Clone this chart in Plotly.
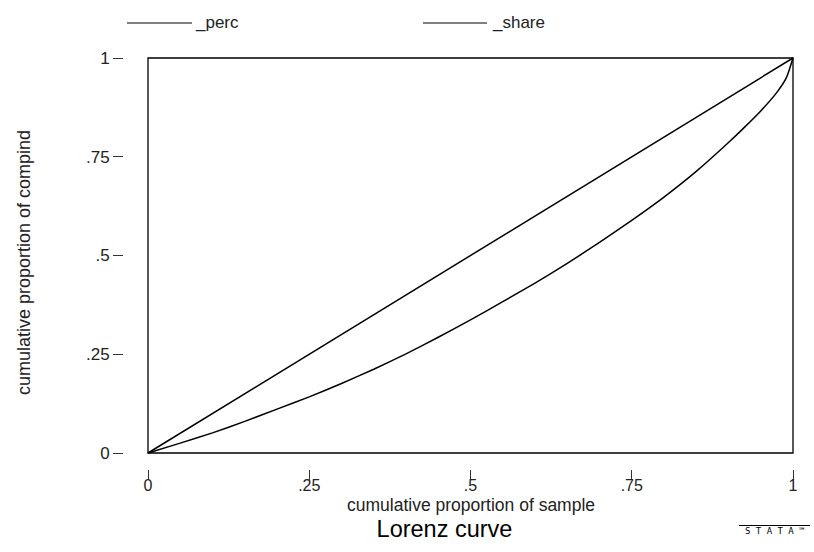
import plotly.graph_objects as go

# ---- data ----
share_x = [0, 0.05, 0.10, 0.15, 0.20, 0.25, 0.30, 0.35, 0.40, 0.45, 0.50, 0.55,
           0.60, 0.65, 0.70, 0.75, 0.80, 0.85, 0.90, 0.925, 0.95, 0.975, 0.99, 1.0]
share_y = [0, 0.025, 0.051, 0.080, 0.111, 0.142, 0.176, 0.212, 0.251, 0.293, 0.337, 0.383,
           0.430, 0.480, 0.533, 0.589, 0.648, 0.713, 0.786, 0.825, 0.866, 0.913, 0.951, 1.0]
perc_x = [0, 1]
perc_y = [0, 1]
tick_vals = [0, 0.25, 0.5, 0.75, 1]
tick_text = ["0", ".25", ".5", ".75", "1"]

W, H = 814, 552
L, R, T, B = 124, 795, 56, 469   # plot-area pixel edges


def px(x):
    return (x - L) / (R - L)


def py(y):
    return (B - y) / (B - T)


FONT = "Liberation Sans, Arial, sans-serif"

fig = go.Figure()
fig.add_trace(go.Scatter(x=perc_x, y=perc_y, mode="lines", name="_perc",
                         line=dict(color="black", width=1.5), showlegend=False))
fig.add_trace(go.Scatter(x=share_x, y=share_y, mode="lines", name="_share",
                         line=dict(color="black", width=1.5, shape="spline", smoothing=0.5),
                         showlegend=False))

# frame
fig.add_shape(type="rect", xref="x", yref="y", x0=0, y0=0, x1=1, y1=1,
              line=dict(color="black", width=1.3), layer="below")

# manual legend
for (x0, x1, tx, label) in [(127, 192, 193, "_perc"), (423, 487, 490, "_share")]:
    fig.add_shape(type="line", xref="paper", yref="paper", x0=px(x0), x1=px(x1),
                  y0=py(23), y1=py(23), line=dict(color="black", width=1.2))
    fig.add_annotation(xref="paper", yref="paper", x=px(tx), y=py(22), text=label,
                       showarrow=False, xanchor="left", yanchor="middle",
                       font=dict(size=17, color="#222", family=FONT))

# x axis title (centered on data)
fig.add_annotation(xref="x", yref="paper", x=0.5, y=py(505.5),
                   text="cumulative proportion of sample", showarrow=False,
                   xanchor="center", yanchor="middle",
                   font=dict(size=17.5, color="#222", family=FONT))

# stata logo
fig.add_shape(type="line", xref="paper", yref="paper", x0=px(739), x1=px(810),
              y0=py(525.5), y1=py(525.5), line=dict(color="black", width=1))
fig.add_annotation(xref="paper", yref="paper", x=px(775), y=py(531),
                   text="S T A T A ™", showarrow=False, xanchor="center", yanchor="middle",
                   font=dict(size=9, color="black", family="DejaVu Sans Mono, monospace"))

x_lo = -(148 - L) / 645
x_hi = 1 + (R - 793) / 645
y_lo = -(B - 453) / 395
y_hi = 1 + (58 - T) / 395

axis_common = dict(showgrid=False, zeroline=False, showline=False,
                   ticks="outside", ticklen=10, tickwidth=1, tickcolor="#333",
                   tickvals=tick_vals, ticktext=tick_text)

fig.update_layout(
    width=W, height=H,
    margin=dict(l=L, r=W - R, t=T, b=H - B, autoexpand=False),
    paper_bgcolor="white", plot_bgcolor="white",
    title=dict(text="Lorenz curve", xref="container", yref="container",
               x=444.5 / W, y=1 - 529 / H, xanchor="center", yanchor="middle",
               font=dict(size=23.5, color="black", family=FONT)),
    xaxis=dict(range=[x_lo, x_hi], ticklabelstandoff=-8,
               tickfont=dict(size=16, color="#222", family=FONT), **axis_common),
    yaxis=dict(range=[y_lo, y_hi],
               tickfont=dict(size=17, color="#222", family=FONT),
               title=dict(text="cumulative proportion of compind", standoff=50,
                          font=dict(size=18, color="#222", family=FONT)),
               **axis_common),
    showlegend=False,
)

fig.write_html("out.html")
